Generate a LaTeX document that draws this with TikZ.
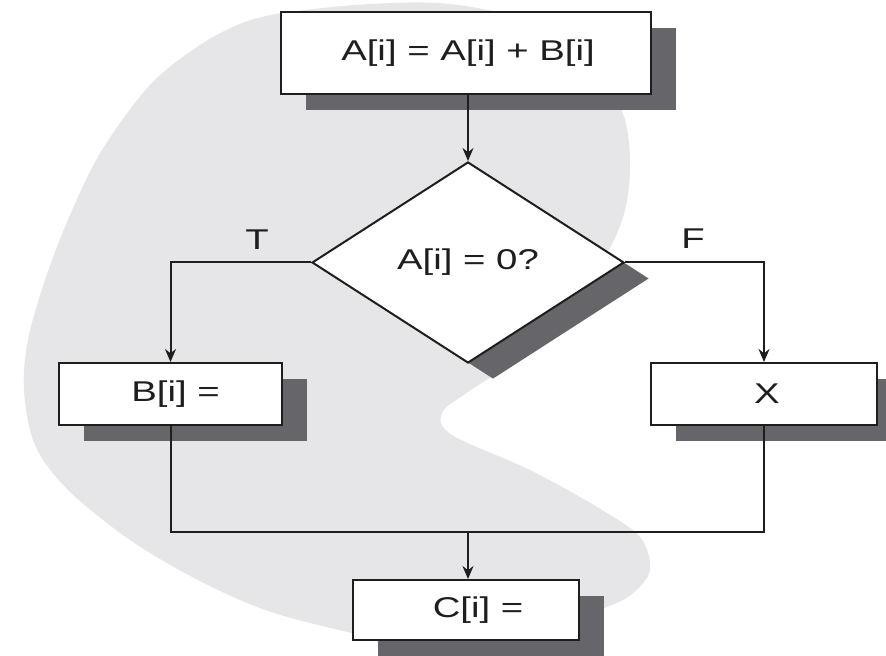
\documentclass[tikz,border=0pt]{standalone}
\usepackage{fontspec}
\setmainfont{Liberation Sans}[FakeStretch=1.34]
\usetikzlibrary{shapes.geometric,shadows,arrows.meta,calc}
\definecolor{blobgray}{RGB}{230,230,232}
\definecolor{shadegray}{RGB}{102,102,106}
\definecolor{ink}{RGB}{30,30,30}
\tikzset{
  shd/.style={drop shadow={shadow xshift=12.5pt, shadow yshift=-8pt, fill=shadegray, opacity=1}},
  lbl/.style={font=\fontsize{14.3pt}{17pt}\selectfont, text=ink},
  procbox/.style={lbl, rectangle, draw=ink, fill=white, line width=1pt, inner sep=0pt, shd},
  decbox/.style={lbl, diamond, draw=ink, fill=white, line width=1pt, inner sep=0pt, shd,
     minimum width=156pt, minimum height=100.5pt},
  conn/.style={draw=ink, line width=1pt},
  arr/.style={conn, -{Stealth[length=6.5pt,width=5.5pt]}}
}
\begin{document}
\begin{tikzpicture}[x=0.5pt,y=-0.5pt]
\useasboundingbox (0,0) rectangle (886,656);
\clip (0,0) rectangle (886,656);
% background blob
\fill[blobgray] plot[smooth cycle, tension=0.55] coordinates {
 (290,12) (370,4) (450,4) (530,22) (590,62) (622,111) (630,160) (625,210) (606,255)
 (565,310) (515,360) (468,392) (442,413) (452,435) (530,470) (597,507) (640,537)
 (650,570) (633,593) (607,607) (540,630) (470,645) (400,642) (339,630) (265,610)
 (198,580) (130,540) (68,490) (35,445) (24,390) (28,340) (45,280) (70,215)
 (102,150) (150,85) (200,45) (245,22)};
% nodes
\node[procbox, minimum width=185pt, minimum height=41pt] (top) at (466,53) {\hspace*{2pt}A[i] = A[i] + B[i]};
\node[decbox] (dia) at (468,262.5) {A[i] = 0?};
\node[procbox, minimum width=111.5pt, minimum height=31pt] (bbox) at (170.5,394) {\hspace*{5pt}B[i] =};
\node[procbox, minimum width=113pt, minimum height=31pt] (xbox) at (764,394) {\hspace*{3pt}X};
\node[procbox, minimum width=113pt, minimum height=30pt] (cbox) at (466,610) {\hspace*{12pt}C[i] =};
\node[lbl] (tl) at (257,240) {T};
\node[lbl] (fl) at (693,239) {F};
\coordinate (join) at (468,532);
% connectors
\draw[arr] (dia.north |- top.south) -- (dia.north);
\draw[arr] (dia.west) -| (bbox.north);
\draw[arr] (dia.east) -| (xbox.north);
\draw[conn] (bbox.south) |- (join) -| (xbox.south);
\draw[arr] (join) -- (join |- cbox.north);
\end{tikzpicture}
\end{document}
